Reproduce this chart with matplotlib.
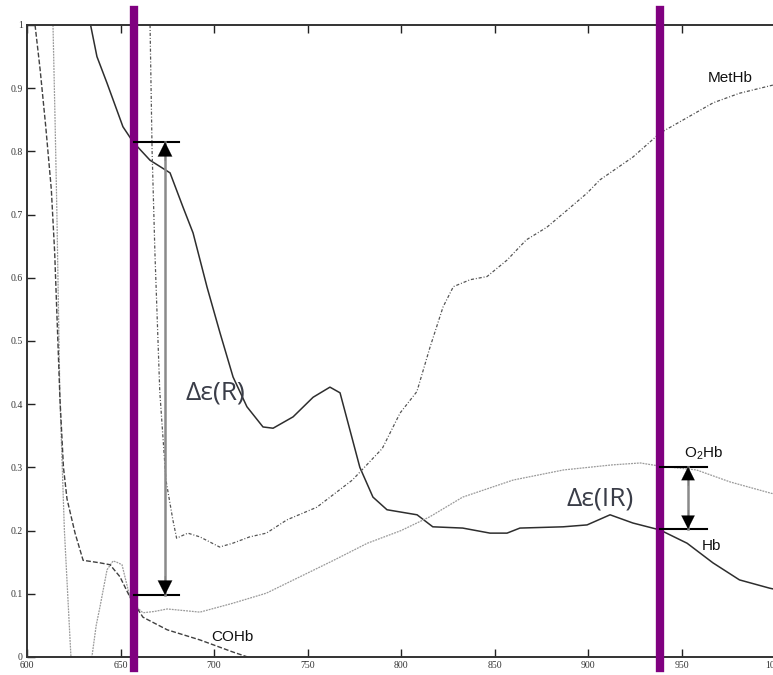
import numpy as np
import matplotlib
matplotlib.use("Agg")
from matplotlib import pyplot as plt

plt.rcParams['mathtext.fontset'] = 'custom'
plt.rcParams['mathtext.rm'] = 'Liberation Sans'

# ---------------- data ----------------
hb_wl = [634, 637.4, 642.8, 651.3, 656.7, 665.8, 676.5, 683.4, 688.8, 696.3, 703.2, 710.2,
         717.6, 726.2, 731.6, 742.3, 753, 762, 767.4, 772.7, 778, 785, 792.5, 808.6, 817,
         833, 847.6, 856.7, 863.6, 886.7, 899.5, 911.8, 924, 938.5, 953, 966.8, 981, 997, 1000]
hb_val = [1.0, 0.95, 0.908, 0.839, 0.815, 0.786, 0.766, 0.712, 0.671, 0.585, 0.513, 0.443,
          0.396, 0.364, 0.362, 0.38, 0.411, 0.427, 0.418, 0.359, 0.30, 0.253, 0.233, 0.225, 0.206,
          0.204, 0.196, 0.196, 0.204, 0.206, 0.209, 0.225, 0.212, 0.201, 0.18, 0.149, 0.122, 0.109, 0.107]

o2hb_wl = [613.9, 615.0, 616.0, 617.6, 620.0, 623.5, 634.7, 637, 639, 642.8, 646, 648, 650.8,
           655, 659, 662, 668, 675, 682, 692.5, 710, 728, 746, 764, 782, 800, 815.5, 833, 860,
           887, 913, 928, 938.5, 958, 976, 998, 1000]
o2hb_val = [1.0, 0.85, 0.70, 0.41, 0.20, 0.0, 0.0, 0.05, 0.079, 0.138, 0.152, 0.15, 0.146,
            0.095, 0.078, 0.07, 0.072, 0.076, 0.074, 0.071, 0.085, 0.101, 0.127, 0.153, 0.18, 0.2,
            0.222, 0.253, 0.28, 0.296, 0.304, 0.307, 0.302, 0.296, 0.277, 0.259, 0.258]

cohb_wl = [604.3, 607, 610, 613, 614.8, 617.6, 619.5, 621.4, 625.7, 630, 639, 644.4, 649.7,
           655, 662, 675, 692.5, 710, 718]
cohb_val = [1.0, 0.93, 0.84, 0.74, 0.64, 0.41, 0.3, 0.25, 0.196, 0.153, 0.149, 0.146, 0.127,
            0.095, 0.063, 0.043, 0.027, 0.008, 0.0]

methb_wl = [665.8, 666.9, 668.4, 671, 674.3, 678, 680, 686, 692.5, 703, 710, 719, 728, 739,
            755, 774, 790, 799.5, 808.5, 815.5, 822.5, 828, 837, 846, 856.7, 867, 878, 888.8,
            899.5, 906.4, 924, 938.5, 951, 967, 981, 999, 1000]
methb_val = [1.0, 0.8, 0.64, 0.42, 0.28, 0.217, 0.188, 0.196, 0.19, 0.174, 0.18, 0.19, 0.196,
             0.217, 0.237, 0.28, 0.33, 0.386, 0.42, 0.49, 0.554, 0.586, 0.597, 0.602, 0.628, 0.66,
             0.68, 0.707, 0.734, 0.755, 0.791, 0.829, 0.85, 0.877, 0.892, 0.905, 0.906]

x_ticks = [600, 650, 700, 750, 800, 850, 900, 950, 1000]
y_ticks = [0, 0.1, 0.2, 0.3, 0.4, 0.5, 0.6, 0.7, 0.8, 0.9, 1.0]
y_ticklabels = ['0', '0.1', '0.2', '0.3', '0.4', '0.5', '0.6', '0.7', '0.8', '0.9', '1']

# marker wavelengths (red / infrared) and the delta-epsilon readings
red_wl = 657.0
ir_wl = 938.5
red_top, red_bottom = 0.815, 0.098
ir_top, ir_bottom = 0.301, 0.2025

# ---------------- figure ----------------
fig = plt.figure(figsize=(7.73, 6.75), dpi=100)
ax = fig.add_axes([27 / 773, 18 / 675, 748 / 773, 632 / 675])

ax.plot(hb_wl, hb_val, color='#2e2e2e', lw=1.1, ls='-')
ax.plot(o2hb_wl, o2hb_val, color='#9a9a9a', lw=0.9, ls=(0, (1.5, 0.8)))
ax.plot(cohb_wl, cohb_val, color='#404040', lw=1.0, ls=(0, (3.5, 1.5)))
ax.plot(methb_wl, methb_val, color='#555555', lw=0.9, ls=(0, (2.5, 1.5, 0.8, 1.5)))

ax.set_xlim(600, 1000)
ax.set_ylim(0, 1)
ax.set_xticks(x_ticks)
ax.set_xticklabels([str(v) for v in x_ticks], family='Liberation Serif', fontsize=7)
ax.set_yticks(y_ticks)
ax.set_yticklabels(y_ticklabels, family='Liberation Serif', fontsize=7)
ax.tick_params(direction='in', length=6, width=1.0, pad=3, top=True,
               colors='#222222', labelcolor='#333333')
for side in ['left', 'bottom', 'top']:
    ax.spines[side].set_linewidth(1.4)
    ax.spines[side].set_color('#333333')
ax.spines['right'].set_visible(False)

# purple marker lines
for wl in (red_wl, ir_wl):
    ax.axvline(wl, ymin=-0.018, ymax=1.024, color='#800080', lw=6, clip_on=False, zorder=5)


def bracket(x_line, x_end, x_arrow, top, bottom, scale):
    ax.plot([x_line, x_end], [top, top], color='black', lw=1.5, zorder=6)
    ax.plot([x_line, x_end], [bottom, bottom], color='black', lw=1.5, zorder=6)
    ax.plot([x_arrow, x_arrow], [top, bottom], color='#8a8a8a', lw=1.8, zorder=6)
    for tip, tail in ((top, top - 0.03), (bottom, bottom + 0.03)):
        ax.annotate('', xy=(x_arrow, tip), xytext=(x_arrow, tail),
                    arrowprops=dict(arrowstyle='-|>', color='black', lw=0.1,
                                    mutation_scale=scale, shrinkA=0, shrinkB=0), zorder=7)


bracket(red_wl, 681.5, 673.8, red_top, red_bottom, 26)
bracket(ir_wl, 963.5, 953.5, ir_top, ir_bottom, 24)

txt_col = '#3a3d48'
ax.text(700.5, 0.418, 'Δε(R)', fontsize=19, family=['Open Sans', 'DejaVu Sans'],
        color=txt_col, ha='center', va='center')
ax.text(906.4, 0.250, 'Δε(IR)', fontsize=19, family=['Open Sans', 'DejaVu Sans'],
        color=txt_col, ha='center', va='center')

lab = dict(fontsize=11, family='Liberation Sans', color='#111111', ha='center', va='center')
ax.text(976, 0.916, 'MetHb', **lab)
ax.text(962, 0.322, r'O$_2$Hb', **lab)
ax.text(966, 0.175, 'Hb', **lab)
ax.text(710, 0.031, 'COHb', **lab)

fig.savefig('out.png', dpi=100)
